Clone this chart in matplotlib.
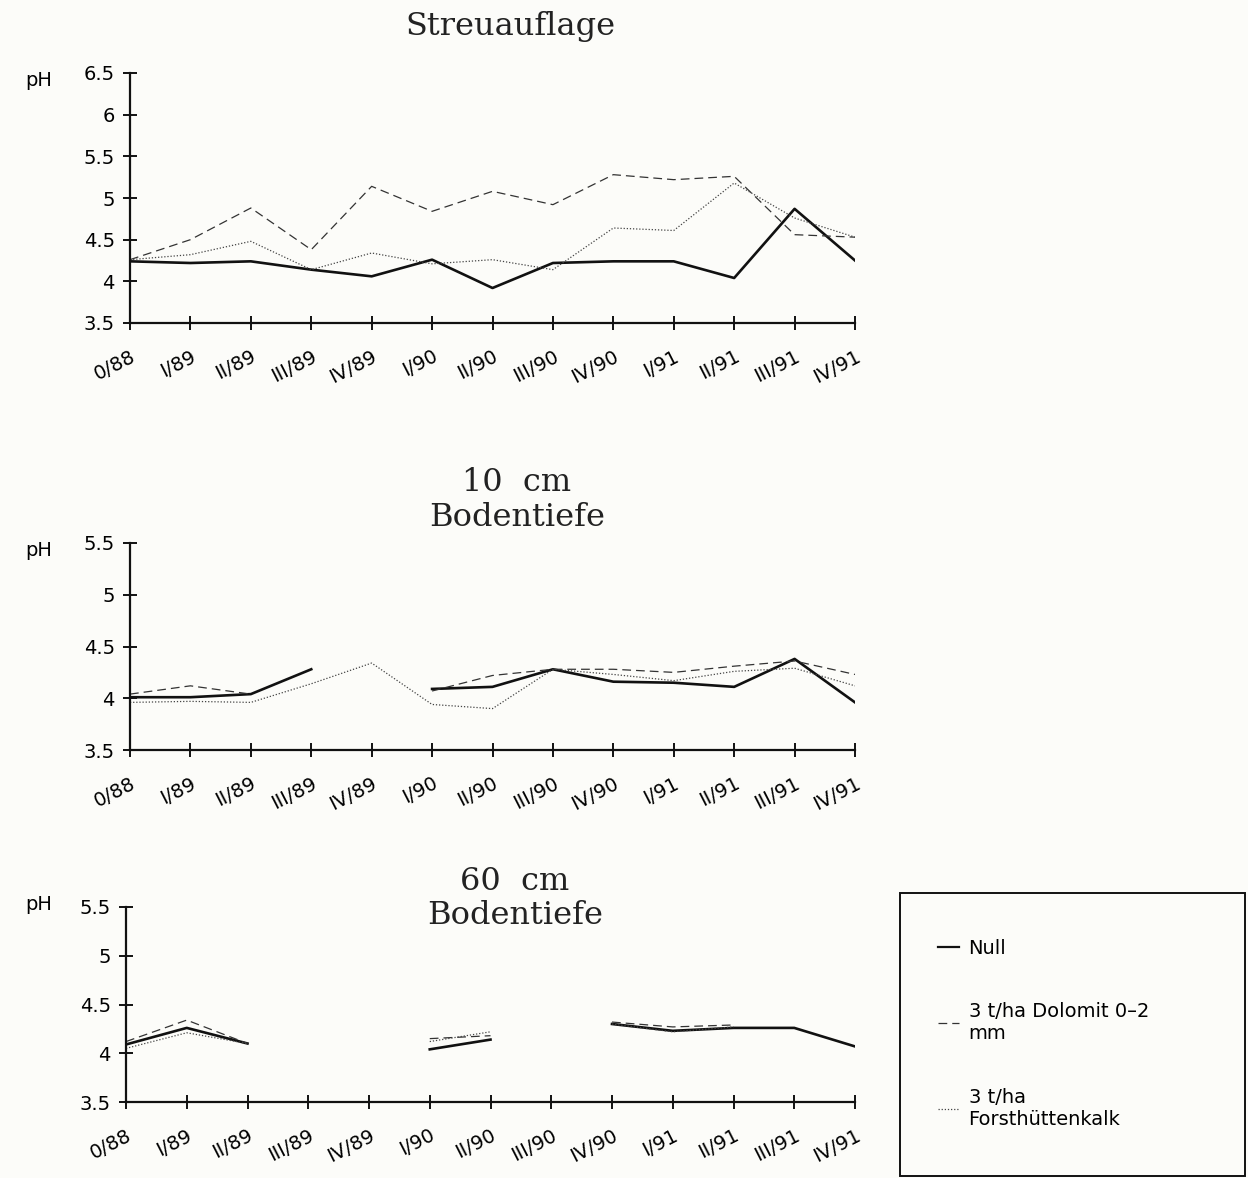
import numpy as np
import matplotlib
matplotlib.use("Agg")
import matplotlib.pyplot as plt
from matplotlib.patches import Rectangle
from matplotlib.lines import Line2D

nan = np.nan
periods = ["0/88", "I/89", "II/89", "III/89", "IV/89", "I/90", "II/90",
           "III/90", "IV/90", "I/91", "II/91", "III/91", "IV/91"]
series_names = ["Null", "3 t/ha Dolomit 0\u20132\nmm", "3 t/ha\nForsth\u00fcttenkalk"]

# Streuauflage
streu_null = [4.24, 4.22, 4.24, 4.14, 4.06, 4.26, 3.92, 4.22, 4.24, 4.24, 4.04, 4.87, 4.25]
streu_dolo = [4.26, 4.50, 4.88, 4.38, 5.14, 4.84, 5.08, 4.92, 5.28, 5.22, 5.26, 4.56, 4.53]
streu_forst = [4.26, 4.32, 4.48, 4.14, 4.34, 4.21, 4.26, 4.14, 4.64, 4.61, 5.18, 4.76, 4.53]

# 10 cm Bodentiefe
b10_null = [4.01, 4.01, 4.04, 4.28, nan, 4.09, 4.11, 4.28, 4.16, 4.15, 4.11, 4.38, 3.96]
b10_dolo = [4.04, 4.12, 4.04, nan, nan, 4.07, 4.22, 4.28, 4.28, 4.25, 4.31, 4.36, 4.23]
b10_forst = [3.96, 3.97, 3.96, 4.14, 4.34, 3.94, 3.90, 4.28, 4.23, 4.17, 4.26, 4.29, 4.12]

# 60 cm Bodentiefe
b60_null = [4.09, 4.26, 4.10, nan, nan, 4.04, 4.14, nan, 4.30, 4.23, 4.26, 4.26, 4.07]
b60_dolo = [4.12, 4.34, 4.10, nan, nan, 4.15, 4.18, nan, 4.32, 4.27, 4.29, nan, nan]
b60_forst = [4.05, 4.21, 4.10, nan, nan, 4.12, 4.22, nan, 4.30, 4.22, 4.27, nan, nan]

yticks1 = [3.5, 4, 4.5, 5, 5.5, 6, 6.5]
yticks2 = [3.5, 4, 4.5, 5, 5.5]

W, H = 1248, 1178
bg = "#fcfcf9"
fig = plt.figure(figsize=(W / 100, H / 100), dpi=100, facecolor=bg)

styles = [dict(color="#111111", lw=1.9, ls="-"),
          dict(color="#333333", lw=0.9, ls=(0, (7, 4))),
          dict(color="#444444", lw=0.9, ls=(0, (1, 1.5)))]

def px_axes(l, r, t, b):
    return fig.add_axes([l / W, 1 - b / H, (r - l) / W, (b - t) / H], facecolor="none")

def setup(ax, data, yt, ph_y):
    x = np.arange(len(periods))
    for vals, st in zip(data, styles):
        ax.plot(x, vals, **st)
    ax.set_xlim(0, 12)
    ax.set_ylim(yt[0], yt[-1])
    for s in ["top", "right"]:
        ax.spines[s].set_visible(False)
    for s in ["left", "bottom"]:
        ax.spines[s].set_linewidth(1.6)
        ax.spines[s].set_color("#111111")
    ax.set_yticks(yt)
    ax.set_yticklabels(["%g" % v for v in yt], fontsize=14, family="DejaVu Sans")
    ax.set_xticks(x)
    ax.set_xticklabels(periods, fontsize=14, family="DejaVu Sans",
                       rotation=27, ha="right", va="top", rotation_mode="anchor")
    ax.tick_params(axis="both", direction="inout", length=10, width=1.4, color="#111111")
    ax.tick_params(axis="y", pad=6)
    ax.tick_params(axis="x", pad=12)
    ax.annotate("pH", xy=(25 / W, 1 - ph_y / H), xycoords="figure fraction",
                fontsize=14, family="DejaVu Sans", ha="left", va="center")

ax1 = px_axes(130, 855, 73, 323)
setup(ax1, [streu_null, streu_dolo, streu_forst], yticks1, 80)

ax2 = px_axes(130, 855, 543, 750)
setup(ax2, [b10_null, b10_dolo, b10_forst], yticks2, 550)

ax3 = px_axes(126, 855, 907, 1102)
setup(ax3, [b60_null, b60_dolo, b60_forst], yticks2, 905)

title_kw = dict(family="DejaVu Serif", fontsize=23, ha="center", va="center", color="#222222")
fig.text(510 / W, 1 - 27 / H, "Streuauflage", **title_kw)
fig.text(517 / W, 1 - 483 / H, "10  cm", **title_kw)
fig.text(517 / W, 1 - 518 / H, "Bodentiefe", **title_kw)
fig.text(515 / W, 1 - 882 / H, "60  cm", **title_kw)
fig.text(515 / W, 1 - 916 / H, "Bodentiefe", **title_kw)

# legend box
fig.patches.append(Rectangle((900 / W, 1 - 1176 / H), 345 / W, 283 / H,
                             transform=fig.transFigure, fill=False,
                             edgecolor="#111111", lw=1.4))
handles = [Line2D([], [], **st) for st in styles]
handles[0].set_linewidth(1.6)
leg = fig.legend(handles, series_names, loc="upper left",
                 bbox_to_anchor=(920 / W, 1 - 921 / H), frameon=False,
                 handlelength=1.1, handletextpad=0.5,
                 labelspacing=2.3, prop=dict(family="DejaVu Sans", size=14))

fig.savefig("out.png", dpi=100, facecolor=bg)
